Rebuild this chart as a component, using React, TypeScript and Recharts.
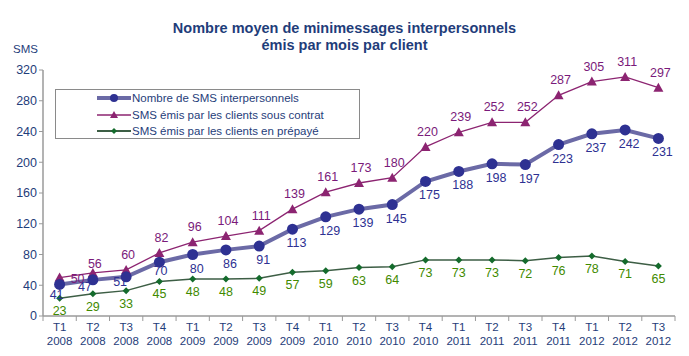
import React from "react";
import { LineChart, Line, XAxis, YAxis, LabelList } from "recharts";

// ─── Data ────────────────────────────────────────────────────────────────────
const QUARTERS = [
  "T1 2008", "T2 2008", "T3 2008", "T4 2008",
  "T1 2009", "T2 2009", "T3 2009", "T4 2009",
  "T1 2010", "T2 2010", "T3 2010", "T4 2010",
  "T1 2011", "T2 2011", "T3 2011", "T4 2011",
  "T1 2012", "T2 2012", "T3 2012",
];
const TOTAL    = [41, 47, 51, 70, 80, 86, 91, 113, 129, 139, 145, 175, 188, 198, 197, 223, 237, 242, 231];
const CONTRACT = [50, 56, 60, 82, 96, 104, 111, 139, 161, 173, 180, 220, 239, 252, 252, 287, 305, 311, 297];
const PREPAID  = [23, 29, 33, 45, 48, 48, 49, 57, 59, 63, 64, 73, 73, 73, 72, 76, 78, 71, 65];
const Y_TICKS  = [0, 40, 80, 120, 160, 200, 240, 280, 320];

const data = QUARTERS.map((q, i) => ({
  q,
  total: TOTAL[i],
  contract: CONTRACT[i],
  prepaid: PREPAID[i],
}));

// ─── Palette ────────────────────────────────────────────────────────────────
const C_TEXT      = "#1f3d7a";
const C_AXIS      = "#9a9a9a";
const C_TOT_LINE  = "#6b6aa6";
const C_TOT_DOT   = "#2e3192";
const C_TOT_LBL   = "#2e3192";
const C_CON       = "#8c2471";
const C_CON_LBL   = "#7a1a7a";
const C_PRE_LINE  = "#3d5e45";
const C_PRE_DOT   = "#146b2c";
const C_PRE_LBL   = "#3f8a00";
const FONT = "Liberation Sans, Arial, sans-serif";

const HALF_BAND = 16.6;

// ─── Markers ────────────────────────────────────────────────────────────────
function Triangle(props: any) {
  const { cx, cy } = props;
  if (cx == null || cy == null) return null;
  return <polygon points={`${cx},${cy - 5} ${cx - 5},${cy + 4} ${cx + 5},${cy + 4}`} fill={C_CON} />;
}

function Diamond(props: any) {
  const { cx, cy } = props;
  if (cx == null || cy == null) return null;
  return <polygon points={`${cx},${cy - 3.5} ${cx + 3.5},${cy} ${cx},${cy + 3.5} ${cx - 3.5},${cy}`} fill={C_PRE_DOT} />;
}

// ─── Labels ─────────────────────────────────────────────────────────────────
function makeLabel(color: string, dx: number, dy: number, tweak?: (i: number) => [number, number] | null) {
  return (props: any) => {
    const { x, y, value, index } = props;
    const t = tweak ? tweak(index) : null;
    const ox = t ? t[0] : dx;
    const oy = t ? t[1] : dy;
    return (
      <text x={x + ox} y={y + oy} fill={color} fontSize={12.5} fontFamily={FONT} textAnchor="middle" dominantBaseline="central">
        {value}
      </text>
    );
  };
}

const totalLabel = makeLabel(C_TOT_LBL, 4, 14, (i) => {
  if (i === 0) return [-3, 11];
  if (i === 1) return [-8, 7];
  if (i === 2) return [-6, 5];
  if (i === 3) return [1, 9];
  return null;
});
const contractLabel = makeLabel(C_CON_LBL, 2, -15, (i) => (i === 0 ? [18, 1] : i === 1 ? [2, -9] : null));
const prepaidLabel = makeLabel(C_PRE_LBL, 0, 13);

// ─── Axis ticks ─────────────────────────────────────────────────────────────
function QuarterTick(props: any) {
  const { x, y, payload, index } = props;
  const [t, yr] = String(payload.value).split(" ");
  const last = index === QUARTERS.length - 1;
  return (
    <g>
      <line x1={x - HALF_BAND} y1={y - 8} x2={x - HALF_BAND} y2={y - 3} stroke={C_AXIS} />
      {last && <line x1={x + HALF_BAND} y1={y - 8} x2={x + HALF_BAND} y2={y - 3} stroke={C_AXIS} />}
      <text x={x} y={y + 7} fill={C_TEXT} fontSize={11.5} fontFamily={FONT} textAnchor="middle">
        <tspan x={x} dy={0}>{t}</tspan>
        <tspan x={x} dy={14}>{yr}</tspan>
      </text>
    </g>
  );
}

// ─── Legend ─────────────────────────────────────────────────────────────────
function LegendRow({ kind, label }: { kind: "tot" | "con" | "pre"; label: string }) {
  return (
    <div style={{ display: "flex", alignItems: "center", height: 16.5 }}>
      <svg width={34} height={12} style={{ flexShrink: 0 }}>
        {kind === "tot" && (
          <>
            <line x1={0} y1={6} x2={34} y2={6} stroke={C_TOT_LINE} strokeWidth={4} />
            <circle cx={17} cy={6} r={4} fill={C_TOT_DOT} />
          </>
        )}
        {kind === "con" && (
          <>
            <line x1={0} y1={6} x2={34} y2={6} stroke={C_CON} strokeWidth={1.5} />
            <polygon points="17,2 13,9 21,9" fill={C_CON} />
          </>
        )}
        {kind === "pre" && (
          <>
            <line x1={0} y1={6} x2={34} y2={6} stroke={C_PRE_LINE} strokeWidth={2} />
            <polygon points="17,3 20,6 17,9 14,6" fill={C_PRE_DOT} />
          </>
        )}
      </svg>
      <span style={{ marginLeft: 1, fontSize: 11.5, color: C_TEXT, whiteSpace: "nowrap" }}>{label}</span>
    </div>
  );
}

// ─── Component ───────────────────────────────────────────────────────────────
export default function App() {
  return (
    <div style={{ position: "absolute", left: 0, top: 0, width: 689, height: 356, background: "#fff", fontFamily: FONT }}>
      <div
        style={{
          position: "absolute", left: 0, top: 20, width: 689, textAlign: "center",
          fontWeight: "bold", fontSize: 14.5, color: C_TEXT, lineHeight: "17px",
        }}
      >
        Nombre moyen de minimessages interpersonnels
        <br />
        émis par mois par client
      </div>
      <div style={{ position: "absolute", left: 13, top: 43, fontSize: 11.5, color: C_TEXT }}>SMS</div>

      <LineChart width={689} height={356} data={data} margin={{ top: 70, right: 14, left: 0, bottom: 0 }}>
        <XAxis
          dataKey="q"
          scale="point"
          padding={{ left: HALF_BAND, right: HALF_BAND }}
          interval={0}
          tick={<QuarterTick />}
          tickLine={false}
          axisLine={{ stroke: C_AXIS, strokeWidth: 1.5 }}
          height={40}
        />
        <YAxis
          domain={[0, 320]}
          ticks={Y_TICKS}
          interval={0}
          width={43}
          axisLine={{ stroke: C_AXIS, strokeWidth: 1.5 }}
          tickLine={{ stroke: C_AXIS }}
          tickSize={4}
          tick={{ fill: C_TEXT, fontSize: 12.5, fontFamily: FONT }}
        />

        <Line
          dataKey="prepaid"
          stroke={C_PRE_LINE}
          strokeWidth={1.5}
          dot={<Diamond />}
          activeDot={false}
          isAnimationActive={false}
        >
          <LabelList dataKey="prepaid" content={prepaidLabel} />
        </Line>
        <Line
          dataKey="contract"
          stroke={C_CON}
          strokeWidth={1.3}
          dot={<Triangle />}
          activeDot={false}
          isAnimationActive={false}
        >
          <LabelList dataKey="contract" content={contractLabel} />
        </Line>
        <Line
          dataKey="total"
          stroke={C_TOT_LINE}
          strokeWidth={4}
          dot={{ r: 5.5, fill: C_TOT_DOT, stroke: "none" }}
          activeDot={false}
          isAnimationActive={false}
        >
          <LabelList dataKey="total" content={totalLabel} />
        </Line>
      </LineChart>

      <div
        style={{
          position: "absolute", left: 55, top: 89, width: 303, height: 48,
          border: "1.5px solid #8a8a8a", background: "#fff", boxSizing: "content-box",
          paddingTop: 0,
        }}
      >
        <div style={{ position: "absolute", left: 41, top: 0 }}>
          <LegendRow kind="tot" label="Nombre de SMS interpersonnels" />
          <LegendRow kind="con" label="SMS émis par les clients sous contrat" />
          <LegendRow kind="pre" label="SMS émis par les clients en prépayé" />
        </div>
      </div>
    </div>
  );
}
